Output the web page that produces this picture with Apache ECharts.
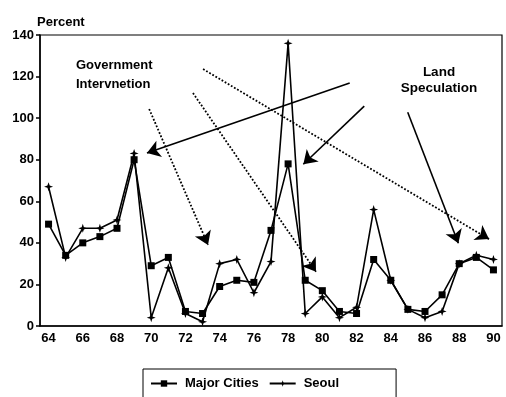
<!DOCTYPE html>
<html>
<head>
<meta charset="utf-8">
<script src="https://cdn.jsdelivr.net/npm/echarts@6/dist/echarts.min.js"></script>
<style>
  html, body { margin: 0; padding: 0; background: #fff; }
  #chart { width: 506px; height: 397px; }
</style>
</head>
<body>
<div id="chart"></div>
<script>
// years 1964..1990, shown as two-digit labels
const years = ['64', '65', '66', '67', '68', '69', '70', '71', '72', '73', '74', '75', '76', '77',
  '78', '79', '80', '81', '82', '83', '84', '85', '86', '87', '88', '89', '90']
const majorCities = [49, 34, 40, 43, 47, 80, 29, 33, 7, 6, 19, 22, 21, 46,
  78, 22, 17, 7, 6, 32, 22, 8, 7, 15, 30, 33, 27]
const seoul = [67, 33, 47, 47, 51, 83, 4, 28, 6, 2, 30, 32, 16, 31,
  136, 6, 14, 4, 9, 56, 22, 8, 4, 7, 30, 34, 32]
const yTicks = { min: 0, max: 140, step: 20 }

// annotation arrows, [from, to] in (year, percent)
const solidArrows = [
  [[81.6, 116.9], [69.75, 83.2]],
  [[82.45, 105.8], [78.89, 77.8]],
  [[84.99, 102.8], [87.95, 39.8]]
]
const dottedArrows = [
  [[69.88, 104.4], [73.32, 39.0]],
  [[72.44, 112.1], [79.63, 26.1]],
  [[73.03, 123.6], [89.74, 41.8]]
]

const font = "'Liberation Sans', Arial, Helvetica, sans-serif"
const star = 'path://M0,-10 L2.5,-2.5 L10,0 L2.5,2.5 L0,10 L-2.5,2.5 L-10,0 L-2.5,-2.5 Z'

const chart = echarts.init(document.getElementById('chart'), null, { renderer: 'canvas' })

const arrowData = solidArrows.map(a => ({ coords: a, lineStyle: { type: 'solid', width: 1.6 } }))
  .concat(dottedArrows.map(a => ({ coords: a, lineStyle: { type: 'dotted', width: 1.8 } })))

const option = {
  animation: false,
  backgroundColor: '#fff',
  textStyle: { fontFamily: font },
  grid: {
    left: 40, right: 4, top: 35, bottom: 71,
    show: true,
    borderColor: '#000',
    borderWidth: 1.2
  },
  legend: {
    top: 369,
    left: 143,
    padding: [8, 57, 30, 7],
    itemGap: 10,
    itemWidth: 26,
    itemHeight: 8,
    borderColor: '#000',
    borderWidth: 1,
    textStyle: { color: '#000', fontSize: 13, fontWeight: 'bold', fontFamily: font, padding: [0, 0, 0, 3] },
    data: ['Major Cities', 'Seoul']
  },
  xAxis: [
    {
      type: 'category',
      data: years,
      boundaryGap: true,
      axisLine: { lineStyle: { color: '#000', width: 1.5 } },
      axisTick: { alignWithLabel: true, interval: 0, length: 5, lineStyle: { color: '#000', width: 1.5 } },
      axisLabel: { interval: 1, color: '#000', fontSize: 13, fontWeight: 'bold', fontFamily: font, margin: 6 },
      splitLine: { show: false }
    },
    {
      // hidden year scale used to place the annotation arrows
      type: 'value',
      min: 63.5,
      max: 90.5,
      show: false
    }
  ],
  yAxis: {
    type: 'value',
    min: yTicks.min,
    max: yTicks.max,
    interval: yTicks.step,
    name: 'Percent',
    nameLocation: 'end',
    nameGap: 5,
    nameTextStyle: { color: '#000', fontSize: 13, fontWeight: 'bold', fontFamily: font, align: 'left', padding: [0, 0, 0, -3] },
    axisLine: { show: true, lineStyle: { color: '#000', width: 1.5 } },
    axisTick: { show: true, length: 4, lineStyle: { color: '#000', width: 1.5 } },
    axisLabel: { color: '#000', fontSize: 13, fontWeight: 'bold', fontFamily: font, margin: 6 },
    splitLine: { show: false }
  },
  series: [
    {
      name: 'Major Cities',
      type: 'line',
      data: majorCities,
      symbol: 'rect',
      symbolSize: 7,
      showAllSymbol: true,
      itemStyle: { color: '#000' },
      lineStyle: { color: '#000', width: 1.6 },
      z: 3
    },
    {
      name: 'Seoul',
      type: 'line',
      data: seoul,
      symbol: star,
      symbolSize: 9,
      showAllSymbol: true,
      itemStyle: { color: '#000' },
      lineStyle: { color: '#000', width: 1.6 },
      z: 4
    },
    {
      name: 'arrows',
      type: 'lines',
      coordinateSystem: 'cartesian2d',
      xAxisIndex: 1,
      yAxisIndex: 0,
      symbol: ['none', 'arrow'],
      symbolSize: [8, 13],
      lineStyle: { color: '#000', opacity: 1, curveness: 0 },
      data: arrowData,
      z: 2
    }
  ],
  graphic: [
    {
      type: 'text',
      x: 76,
      y: 56,
      style: { text: 'Government\nIntervnetion', fill: '#000', font: 'bold 13px ' + font, lineHeight: 19 }
    },
    {
      type: 'text',
      x: 439,
      y: 64,
      style: { text: 'Land\nSpeculation', fill: '#000', font: 'bold 13.5px ' + font, lineHeight: 16, align: 'center' }
    }
  ]
}

chart.setOption(option)
</script>
</body>
</html>
